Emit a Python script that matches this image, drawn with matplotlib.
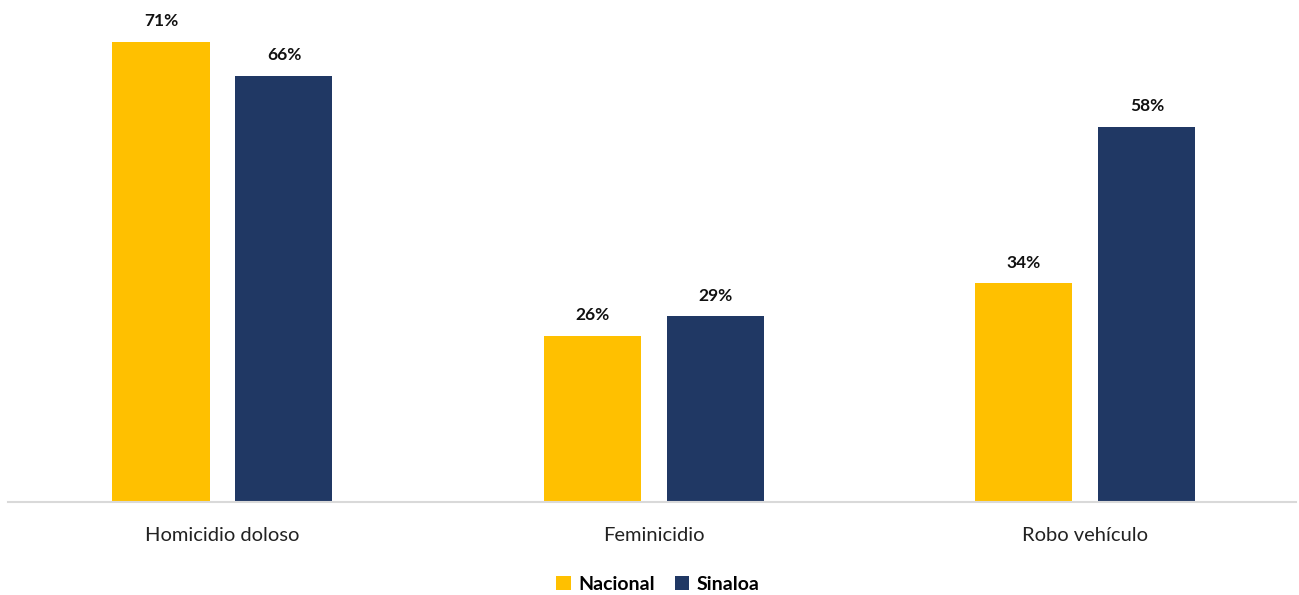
import matplotlib.pyplot as plt
import numpy as np

categories = ["Homicidio doloso", "Feminicidio", "Robo vehículo"]
series_names = ["Nacional", "Sinaloa"]
nacional = [70.9, 25.6, 33.7]
sinaloa = [65.6, 28.6, 57.8]
colors = ["#FFC000", "#203864"]

plt.rcParams["font.family"] = ["Lato", "DejaVu Sans"]

fig = plt.figure(figsize=(12.99, 5.95), dpi=100)
ax = fig.add_axes([8 / 1299, 1 - 502 / 595, 1288 / 1299, 502 / 595])

x = np.arange(len(categories))
width = 0.225
offset = 0.1425
for vals, name, color, off in zip([nacional, sinaloa], series_names, colors, [-offset, offset]):
    bars = ax.bar(x + off, vals, width, color=color, label=name)
    for bar, v in zip(bars, vals):
        ax.annotate(f"{round(v)}%", (bar.get_x() + bar.get_width() / 2, v),
                    xytext=(0, 9), textcoords="offset points",
                    ha="center", va="bottom", fontsize=12.5, fontweight="bold",
                    color="#111111")

ax.set_xlim(-0.497, 2.488)
ax.set_ylim(0, 77.3)
ax.set_xticks(x)
ax.set_xticklabels(categories, fontsize=14.5, color="#222222")
ax.tick_params(axis="x", length=0, pad=18)
ax.set_yticks([])
for side in ["top", "left", "right"]:
    ax.spines[side].set_visible(False)
ax.spines["bottom"].set_color("#d9d9d9")
ax.spines["bottom"].set_linewidth(1.5)

leg = fig.legend(loc="center", bbox_to_anchor=(658 / 1299, 1 - 584 / 595), ncol=2,
                 frameon=False, handlelength=0.75, handleheight=0.75,
                 handletextpad=0.4, columnspacing=1.0,
                 prop={"size": 14, "weight": "bold"})

fig.savefig("out.png", dpi=100)
